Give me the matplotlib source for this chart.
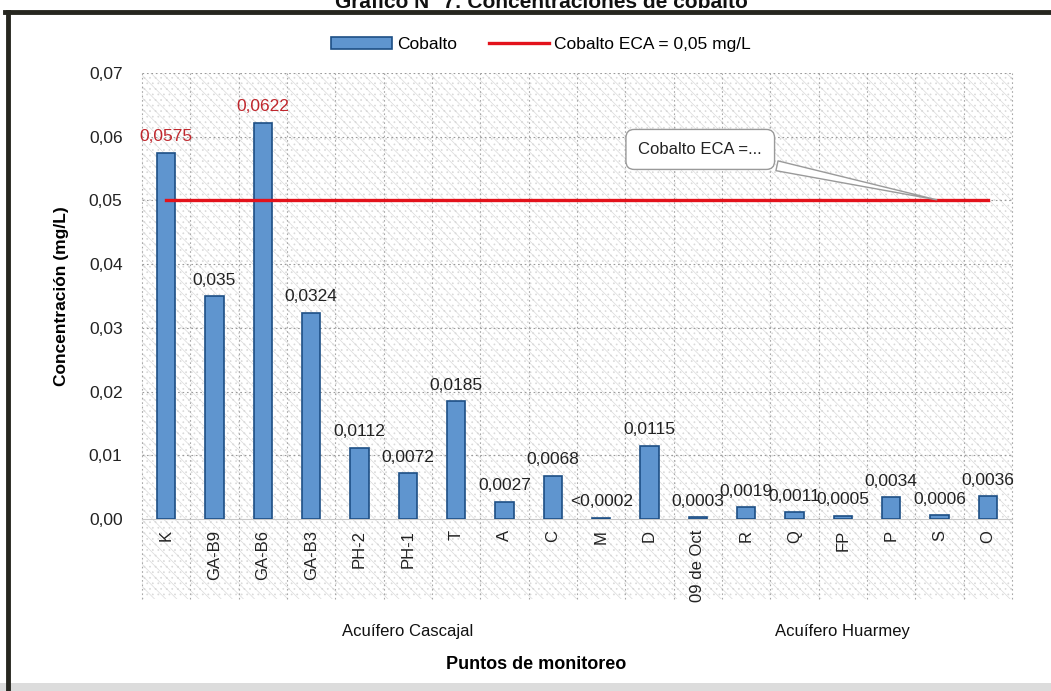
import matplotlib.pyplot as plt
from matplotlib.patches import Rectangle
from matplotlib.lines import Line2D

plt.rcParams['font.family'] = ['Liberation Sans', 'DejaVu Sans']
plt.rcParams['hatch.linewidth'] = 0.5

puntos = ['K', 'GA-B9', 'GA-B6', 'GA-B3', 'PH-2', 'PH-1', 'T', 'A', 'C', 'M', 'D',
          '09 de Oct', 'R', 'Q', 'FP', 'P', 'S', 'O']
cobalto = [0.0575, 0.035, 0.0622, 0.0324, 0.0112, 0.0072, 0.0185, 0.0027, 0.0068, 0.0002,
           0.0115, 0.0003, 0.0019, 0.0011, 0.0005, 0.0034, 0.0006, 0.0036]
etiquetas = ['0,0575', '0,035', '0,0622', '0,0324', '0,0112', '0,0072', '0,0185', '0,0027',
             '0,0068', '<0,0002', '0,0115', '0,0003', '0,0019', '0,0011', '0,0005', '0,0034',
             '0,0006', '0,0036']
eca = 0.05
grupos = ['Acuífero Cascajal', 'Acuífero Huarmey']
grupo_rango = [(0, 10), (11, 17)]

fig = plt.figure(figsize=(10.51, 6.91), dpi=100)
ax = fig.add_axes([0.1351, 0.2489, 0.8278, 0.6455])

x = list(range(len(puntos)))

# hatched background, also over the category label band
bg = Rectangle((0, -0.18), 1, 1.18, transform=ax.transAxes, facecolor='white',
               edgecolor='#dadada', hatch='\\\\\\...', lw=0, zorder=0, clip_on=False)
ax.add_patch(bg)

bars = ax.bar(x, cobalto, width=0.38, color='#5f95cf', edgecolor='#1d4f85', linewidth=1.2,
              zorder=3, label='Cobalto')
linea, = ax.plot([x[0], x[-1]], [eca, eca], color='#e3121b', lw=2.4, zorder=4,
                 label='Cobalto ECA = 0,05 mg/L')

for xi, v, t in zip(x, cobalto, etiquetas):
    col = '#c0272d' if v > eca else '#222222'
    ax.annotate(t, (xi, v), xytext=(0, 6), textcoords='offset points', ha='center',
                va='bottom', fontsize=12.5, color=col, zorder=5)

ax.annotate('Cobalto ECA =...', xy=(16, eca), xytext=(11.05, 0.058), ha='center', va='center',
            fontsize=12, color='#222222', zorder=6,
            bbox=dict(boxstyle='round,pad=0.75,rounding_size=0.5', fc='white', ec='#9a9a9a', lw=1),
            arrowprops=dict(arrowstyle='wedge,tail_width=0.6,shrink_factor=0.5', fc='white',
                            ec='#9a9a9a', lw=1))

ax.set_xlim(-0.5, len(puntos) - 0.5)
ax.set_ylim(0, 0.07)
ax.set_yticks([i / 100 for i in range(8)])
ax.set_yticklabels([f'0,{i:02d}' for i in range(8)], fontsize=12.5, color='#222222')
ax.set_xticks(x)
ax.set_xticklabels(puntos, rotation=90, fontsize=12, color='#222222')
ax.tick_params(length=0, pad=8)
ax.tick_params(axis='y', pad=14)
for s in ax.spines.values():
    s.set_visible(False)
ax.spines['bottom'].set_visible(True)
ax.spines['bottom'].set_color('#c8c8c8')

# grid
for k in range(1, 8):
    ax.axhline(k / 100, color='#9a9a9a', lw=0.8, ls=(0, (1.5, 2.5)), zorder=1)
for k in range(len(puntos) + 1):
    ax.plot([k - 0.5, k - 0.5], [-0.18, 1], transform=ax.get_xaxis_transform(),
            color='#a8a8a8', lw=0.8, ls=(0, (1.5, 2.5)), zorder=1, clip_on=False)

for g, (a, b) in zip(grupos, grupo_rango):
    ax.text((a + b) / 2, -0.253, g, transform=ax.get_xaxis_transform(), ha='center',
            va='center', fontsize=12, color='#111111')

ax.set_ylabel('Concentración (mg/L)', fontsize=12.5, fontweight='bold', labelpad=14)
fig.text(0.51, 0.038, 'Puntos de monitoreo', ha='center', va='center', fontsize=13,
         fontweight='bold')

fig.legend(handles=[bars, linea], loc='center', bbox_to_anchor=(0.515, 0.935), ncol=2,
           frameon=False, fontsize=12.5, handlelength=3.5, columnspacing=1.8,
           handletextpad=0.3)

# outer frame and title (cut by the frame, as in the source)
fig.add_artist(Line2D([0.005, 1.0], [0.983, 0.983], color='#26261f', lw=3.5))
fig.add_artist(Line2D([0.008, 0.008], [0.0, 0.983], color='#26261f', lw=3.5))
fig.add_artist(Rectangle((0, 0), 1, 0.012, transform=fig.transFigure, color='#dcdcdc', lw=0))
fig.text(0.515, 0.997, 'Gráfico N° 7: Concentraciones de cobalto', ha='center', va='center',
         fontsize=15, fontweight='bold', color='#111111')

fig.savefig('out.png', dpi=100)
